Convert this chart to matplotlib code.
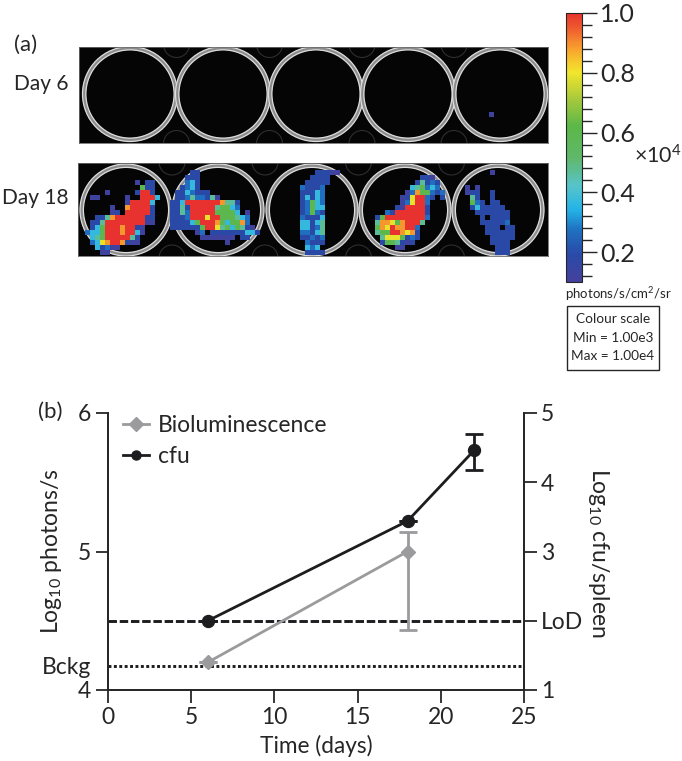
import numpy as np
import matplotlib
matplotlib.use("Agg")
import matplotlib.pyplot as plt
from matplotlib.colors import LinearSegmentedColormap, Normalize
from matplotlib.patches import Circle, Rectangle
from matplotlib.lines import Line2D
from matplotlib.cm import ScalarMappable

plt.rcParams['font.family'] = ['Lato', 'DejaVu Sans']
plt.rcParams['mathtext.default'] = 'regular'
W, H = 682, 761
INK = '#262626'

# ---- data ----
days_biolum = [6, 18]
biolum = [4.2, 5.0]
biolum_low = [0.0, 0.57]
biolum_high = [0.0, 0.14]
days_cfu = [6, 18, 22]
cfu = [2.0, 3.44, 4.46]
cfu_low = [0.0, 0.0, 0.29]
cfu_high = [0.0, 0.0, 0.23]
lod = 2.0
bckg = 4.175
x_ticks = [0, 5, 10, 15, 20, 25]

levels = {'p': 0.12, 'b': 0.19, 'c': 0.27, 'l': 0.37, 't': 0.47, 'g': 0.6,
          'y': 0.79, 'o': 0.89, 'r': 1.0, '.': np.nan}

# each entry: (row, first column, cell codes); 5 px cells from the well's crop origin
well1 = [(4,12,'p.bb'),(5,13,'gbb'),(6,6,'p.....brrb'),(7,3,'pp.....p..rrrl'),(8,10,'prrrrl'),
         (9,7,'p..orrrrb'),(10,7,'pb.rrrrrb'),(11,4,'bbtorrrrrrbb'),(12,3,'bbtrrrrrrrrpp'),
         (13,3,'blgrrrorrbp'),(14,2,'cllgrrrorrlp'),(15,3,'ltgrrrrrtb'),(16,3,'clyorrobpp'),
         (17,4,'lbcpp'),(18,5,'pp')]
well2 = [(2,4,'bb'),(3,3,'bbb'),(4,3,'clb'),(5,2,'bclb'),(6,1,'bblcbbb'),(7,1,'bbctccbtp'),
         (8,0,'bblrrrrrrrottb'),(9,0,'bbtbrrrrrtgglc'),(10,0,'bbtcrrrrrggggl.p'),
         (11,0,'bbbcrrryrrgggtlc'),(12,0,'bbbblgrrroglggoc'),(13,0,'bbbbbbgrrytglgtbp'),
         (14,5,'pc.bbbbbbbllb'),(15,6,'ppppppp.bb'),(16,11,'p')]
well3 = [(2,10,'bbbpp'),(3,9,'bbbb'),(4,8,'bbbbb'),(5,7,'cbbbc'),(6,7,'bbblc'),(7,7,'blblc'),
         (8,7,'bcglc'),(9,7,'bcgll'),(10,7,'bcgcb'),(11,7,'cbbbl'),(12,7,'llblt'),(13,7,'llbct'),
         (14,7,'ccblt'),(15,7,'bbcbc'),(16,8,'cbbb'),(17,8,'lcl'),(18,8,'bbbb')]
well4 = [(3,12,'bbp'),(4,11,'btbcb'),(5,10,'ltgclc'),(6,9,'pcoggcbc'),(7,8,'pbyrrcb.b'),
         (8,8,'pcyrrc'),(9,7,'bprrrrb'),(10,5,'cbrrrrrrb'),(11,3,'bgrrrrrrrrc'),
         (12,3,'tooygorrrt'),(13,3,'goyroorrc'),(14,3,'tggrroyob'),(15,4,'tyyygbcb'),
         (16,4,'bggtbpb'),(17,7,'pp')]
well5 = [(2,8,'p'),(5,3,'p.p'),(6,3,'pbb..b'),(7,4,'tb..b'),(8,4,'gcb.bb'),(9,4,'blbbbbb'),
         (10,5,'bbbbbbb'),(11,6,'b.bbbb'),(12,6,'bbbbbc'),(13,7,'bbb.bb'),(14,7,'bbbbbb'),
         (15,8,'bbbbb'),(16,8,'bbbb'),(17,9,'bbb'),(18,9,'bbb')]
well_dot = [(0,0,'p')]
wells_day18 = [well1, well2, well3, well4, well5]
crops_day18 = [(75,160),(170,160),(265,160),(360,160),(450,160)]
rings_day6 = [130, 223, 316, 408, 500]
rings_day18 = [126, 218, 312, 405, 498]

cmap = LinearSegmentedColormap.from_list('lum', [
    (0.00, '#44409c'), (0.10, '#2a4aa8'), (0.19, '#1f6fc0'), (0.27, '#25b4e8'),
    (0.36, '#58c4c8'), (0.46, '#5fb86a'), (0.58, '#5cb848'), (0.68, '#a6c93c'),
    (0.78, '#f2e62c'), (0.86, '#f9a92e'), (0.93, '#f1682f'), (1.00, '#e8322f')])
norm = Normalize(0.1, 1.0)

fig = plt.figure(figsize=(W/100, H/100), dpi=100)
def box(x0, y0, x1, y1):
    return [x0/W, 1-y1/H, (x1-x0)/W, (y1-y0)/H]
def label(x, y, s, **kw):
    kw.setdefault('va', 'center'); kw.setdefault('color', INK)
    return fig.text(x/W, 1-y/H, s, **kw)

def panel(x0, y0, x1, y1, centers, cy, r):
    ax = fig.add_axes(box(x0, y0, x1, y1))
    ax.set_facecolor('#050505')
    ax.set_xticks([]); ax.set_yticks([])
    for s in ax.spines.values():
        s.set_color('#6a6a6a'); s.set_linewidth(0.6)
    # dim neighbouring plate wells between the bright rings
    for a, b in zip(centers[:-1], centers[1:]):
        m = (a+b)/2
        for yy in (cy-r-2, cy+r+2):
            ax.add_patch(Circle((m, yy), 13, fill=False, ec='#2e2e2e', lw=0.8))
    for cx in centers:
        ax.add_patch(Circle((cx, cy), r-1.7, fill=False, ec='#8c8c8c', lw=2.6))
        ax.add_patch(Circle((cx, cy), r, fill=False, ec='#dcdcdc', lw=0.9))
        ax.add_patch(Circle((cx, cy), r-3.4, fill=False, ec='#dcdcdc', lw=0.9))
    ax.set_xlim(x0, x1); ax.set_ylim(y1, y0)
    return ax

def draw_cells(ax, cells, ox, oy, cell=5, n=20):
    g = np.full((n, n), np.nan)
    for row, col, codes in cells:
        for i, ch in enumerate(codes):
            g[row, col+i] = levels[ch]
    xl, yl = ax.get_xlim(), ax.get_ylim()
    ax.imshow(np.ma.masked_invalid(g), cmap=cmap, norm=norm, interpolation='nearest',
              extent=(ox, ox+n*cell, oy+n*cell, oy), zorder=3, aspect='auto')
    ax.set_xlim(xl); ax.set_ylim(yl)

a1 = panel(79, 47, 548, 143, rings_day6, 94, 47.5)
a2 = panel(78, 163, 548, 256, rings_day18, 210, 46)
draw_cells(a1, well_dot, 489, 112, n=1)
for cells, (ox, oy) in zip(wells_day18, crops_day18):
    draw_cells(a2, cells, ox, oy)

label(14, 45, '(a)', fontsize=16)
label(68, 84, 'Day 6', fontsize=15, ha='right')
label(68, 198, 'Day 18', fontsize=15, ha='right')

# colour bar
cax = fig.add_axes(box(566, 13, 582, 282))
cb = fig.colorbar(ScalarMappable(norm=norm, cmap=cmap), cax=cax)
cb.set_ticks([0.2, 0.4, 0.6, 0.8, 1.0])
cb.set_ticks(np.arange(0.12, 1.0, 0.04), minor=True)
cb.ax.tick_params(which='major', length=11, width=1, labelsize=18, pad=2, color=INK, labelcolor=INK)
cb.ax.tick_params(which='minor', length=7, width=1, color=INK)
cb.outline.set_edgecolor(INK); cb.outline.set_linewidth(0.8)
label(634, 156, r'×10$^{4}$', fontsize=15.5)
label(565, 294, r'photons/s/cm$^{2}$/sr', fontsize=9.5)
fig.add_artist(Rectangle((567/W, 1-370/H), 92/W, 64/H, transform=fig.transFigure,
                         fill=False, ec=INK, lw=1))
label(613, 319, 'Colour scale', fontsize=9.8, ha='center')
label(613, 338, 'Min = 1.00e3', fontsize=9.8, ha='center')
label(613, 356, 'Max = 1.00e4', fontsize=9.8, ha='center')

# panel b
ax = fig.add_axes(box(108, 413, 524, 690))
ax2 = ax.twinx()
ax.set_xlim(0, 25); ax.set_ylim(4, 6); ax2.set_ylim(1, 5)
ax.spines['top'].set_visible(False); ax2.spines['top'].set_visible(False)
for a in (ax, ax2):
    for s in a.spines.values():
        s.set_color(INK); s.set_linewidth(1.3)
ax.set_xticks(x_ticks)
ax.set_yticks([4, bckg, 5, 6]); ax.set_yticklabels(['4', 'Bckg', '5', '6'])
ax.yaxis.get_major_ticks()[1].tick1line.set_visible(False)
ax2.set_yticks([1, lod, 3, 4, 5]); ax2.set_yticklabels(['1', 'LoD', '3', '4', '5'])
ax.tick_params(axis='both', length=9, width=1.3, color=INK, labelcolor=INK, labelsize=16.5, pad=3)
ax2.tick_params(axis='y', length=9, width=1.3, color=INK, labelcolor=INK, labelsize=16.5, pad=3)
ax.axhline(bckg, color='#1d1d1f', lw=2.1, ls=(0, (1, 0.85)), zorder=1)
ax2.axhline(lod, color='#1d1d1f', lw=2.1, ls=(0, (2.9, 0.95)), zorder=1)
ax.errorbar(days_biolum, biolum, yerr=[biolum_low, biolum_high], color='#9b9b9d', lw=2,
            marker='D', ms=7.5, capsize=6.5, capthick=2, elinewidth=2, zorder=3)
ax2.errorbar(days_cfu, cfu, yerr=[cfu_low, cfu_high], color='#1d1d1f', lw=2,
             marker='o', ms=8.6, capsize=6.5, capthick=2, elinewidth=2, zorder=4)
handles = [Line2D([], [], color='#9b9b9d', lw=2, marker='D', ms=7),
           Line2D([], [], color='#1d1d1f', lw=2, marker='o', ms=6.5)]
ax.legend(handles, ['Bioluminescence', 'cfu'], frameon=False, fontsize=16.5, loc='upper left',
          bbox_to_anchor=(-0.014, 1.066), handlelength=1.15, handletextpad=0.38, labelspacing=0.42,
          labelcolor=INK)
ax.patch.set_visible(False)
ax.set_zorder(3); ax2.set_zorder(2)
label(38, 412, '(b)', fontsize=16)
label(316, 746, 'Time (days)', fontsize=16.3, ha='center')
label(52, 551, r'Log$_{10}$ photons/s', fontsize=16.5, rotation=90, ha='center')
label(598, 553, r'Log$_{10}$ cfu/spleen', fontsize=16.5, rotation=270, ha='center')

fig.savefig('out.png', dpi=100)
